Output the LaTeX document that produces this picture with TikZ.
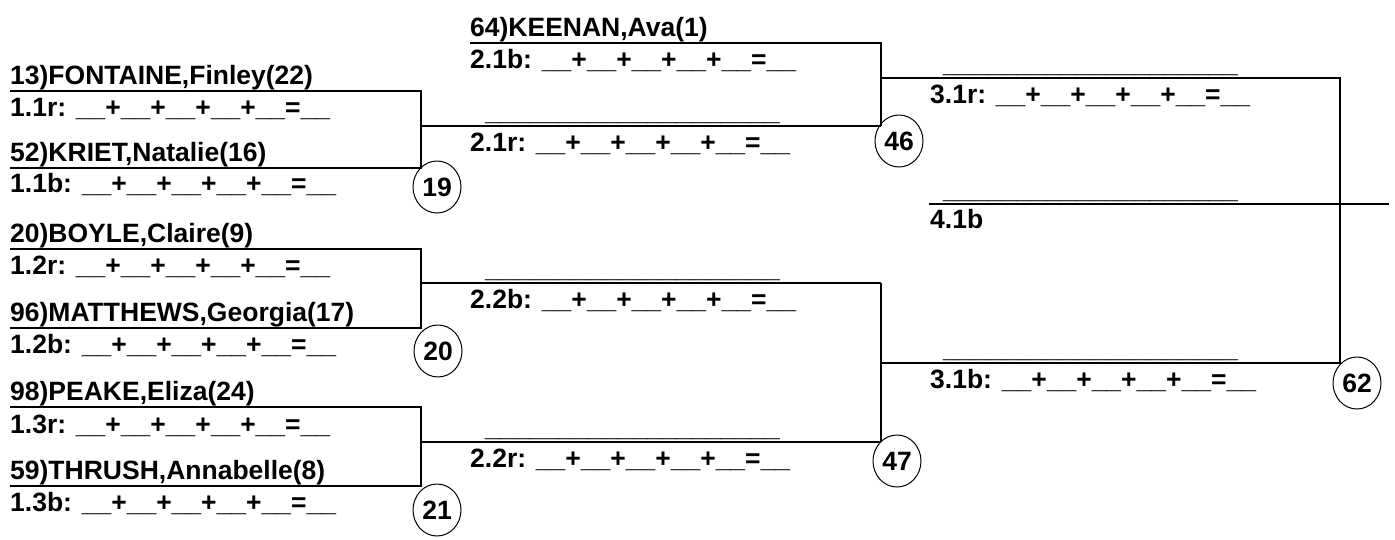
\documentclass[tikz,border=0pt]{standalone}
\usepackage{fontspec}
\setmainfont{Liberation Sans}
\usetikzlibrary{shapes.geometric}

\newcommand{\scoreline}{\_\_+\_\_+\_\_+\_\_+\_\_=\_\_}
\newcommand{\winline}{\_\_\_\_\_\_\_\_\_\_\_\_\_\_\_\_\_\_\_\_}

\begin{document}
\begin{tikzpicture}[x=1pt, y=-1pt]
    \useasboundingbox (0,0) rectangle (1395,539);

    % bracket corners
    \coordinate (a1) at (10,91);   \coordinate (a2) at (421,91);
    \coordinate (a3) at (421,168); \coordinate (a4) at (10,168);
    \coordinate (a5) at (421,126); \coordinate (a6) at (881,126);

    \coordinate (b1) at (10,249);  \coordinate (b2) at (421,249);
    \coordinate (b3) at (421,328); \coordinate (b4) at (10,328);
    \coordinate (b5) at (421,283); \coordinate (b6) at (881,283);

    \coordinate (c1) at (10,407);  \coordinate (c2) at (421,407);
    \coordinate (c3) at (421,486); \coordinate (c4) at (10,486);
    \coordinate (c5) at (421,442); \coordinate (c6) at (881,442);

    \coordinate (d1) at (470,43);  \coordinate (d2) at (881,43);
    \coordinate (d5) at (881,78);  \coordinate (d6) at (1340,78);
    \coordinate (e5) at (881,363); \coordinate (e6) at (1340,363);
    \coordinate (g1) at (929,204); \coordinate (g2) at (1389,204);

    \begin{scope}[line width=1.2pt]
        \draw (a1) -- (a2) -- (a3) -- (a4);
        \draw (a5) -- (a6);
        \draw (b1) -- (b2) -- (b3) -- (b4);
        \draw (b5) -- (b6);
        \draw (c1) -- (c2) -- (c3) -- (c4);
        \draw (c5) -- (c6);
        \draw (d1) -- (d2) -- (a6);
        \draw (d5) -- (d6) -- (e6) -- (e5);
        \draw (b6) -- (c6);
        \draw (g1) -- (g2);
    \end{scope}

    \begin{scope}[every node/.style={anchor=base west, inner sep=0pt, font=\bfseries\fontsize{26.5}{31}\selectfont}]
        \node (n1) at (10,84) {13)FONTAINE,Finley(22)};
        \node (s1) at (10,116) {1.1r: \scoreline};
        \node (n2) at (10,161) {52)KRIET,Natalie(16)};
        \node (s2) at (10,192) {1.1b: \scoreline};
        \node (n3) at (10,242) {20)BOYLE,Claire(9)};
        \node (s3) at (10,274) {1.2r: \scoreline};
        \node (n4) at (10,321) {96)MATTHEWS,Georgia(17)};
        \node (s4) at (10,353) {1.2b: \scoreline};
        \node (n5) at (10,400) {98)PEAKE,Eliza(24)};
        \node (s5) at (10,433) {1.3r: \scoreline};
        \node (n6) at (10,479) {59)THRUSH,Annabelle(8)};
        \node (s6) at (10,511) {1.3b: \scoreline};

        \node (n7) at (470,36) {64)KEENAN,Ava(1)};
        \node (s7) at (470,68) {2.1b: \scoreline};
        \node (w1) at (485,120) {\winline};
        \node (s8) at (470,151) {2.1r: \scoreline};
        \node (w2) at (485,277) {\winline};
        \node (s9) at (470,308) {2.2b: \scoreline};
        \node (w3) at (485,436) {\winline};
        \node (s10) at (470,467) {2.2r: \scoreline};

        \node (w4) at (943,72) {\winline};
        \node (s11) at (930,103) {3.1r: \scoreline};
        \node (w5) at (943,198) {\winline};
        \node (s12) at (930,228) {4.1b};
        \node (w6) at (943,357) {\winline};
        \node (s13) at (930,388) {3.1b: \scoreline};
    \end{scope}

    \begin{scope}[every node/.style={ellipse, draw, line width=1pt, minimum width=48pt, minimum height=52pt, inner sep=0pt, font=\bfseries\fontsize{26.5}{31}\selectfont}]
        \node (p1) at (437,187) {19};
        \node (p2) at (438,351) {20};
        \node (p3) at (437,510) {21};
        \node (p4) at (899,141) {46};
        \node (p5) at (897,461) {47};
        \node (p6) at (1357,383) {62};
    \end{scope}
\end{tikzpicture}
\end{document}
